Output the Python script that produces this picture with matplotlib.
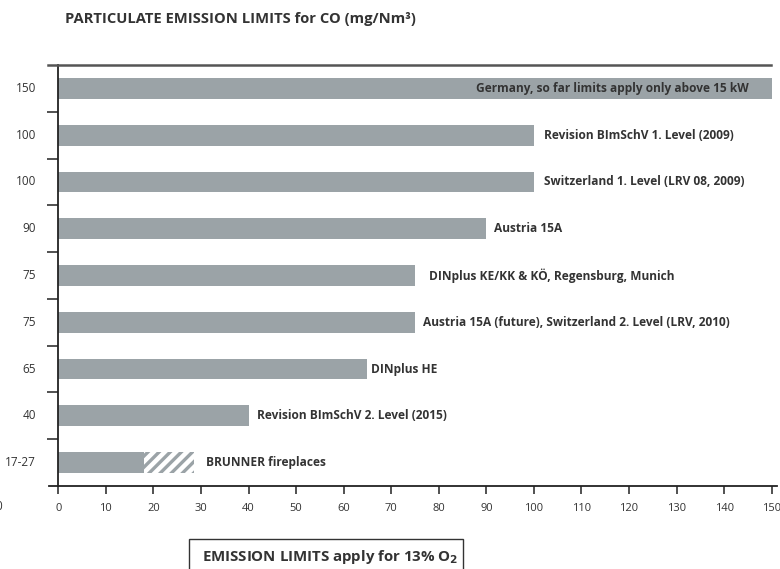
import matplotlib
matplotlib.use("Agg")
import matplotlib.pyplot as plt
from matplotlib.lines import Line2D
from matplotlib.patches import Rectangle

# ---- data ----
labels = [
    "Germany, so far limits apply only above 15 kW",
    "Revision BImSchV 1. Level (2009)",
    "Switzerland 1. Level (LRV 08, 2009)",
    "Austria 15A",
    "DINplus KE/KK & KÖ, Regensburg, Munich",
    "Austria 15A (future), Switzerland 2. Level (LRV, 2010)",
    "DINplus HE",
    "Revision BImSchV 2. Level (2015)",
    "BRUNNER fireplaces",
]
tick_labels = ["150", "100", "100", "90", "75", "75", "65", "40", "17-27"]
values = [150, 100, 100, 90, 75, 75, 65, 40, 18]
hatched_extra = [0, 0, 0, 0, 0, 0, 0, 0, 10.6]
xticks = list(range(0, 151, 10))

# ---- style ----
label_gap_px = [-23, 10, 10, 8, 14, 8, 4, 8, 12]
BAR = "#9ba3a7"
TXT = "#333333"
FONT = "Open Sans"

plt.rcParams["font.family"] = [FONT, "DejaVu Sans"]
plt.rcParams["hatch.linewidth"] = 2.4

W, H = 780, 569
fig = plt.figure(figsize=(W / 100, H / 100), dpi=100)

def fx(px):
    return px / W

def fy(py):
    return 1 - py / H

x0, x1, y0, y1 = 58.3, 771.7, 65, 486
ax = fig.add_axes([fx(x0), fy(y1), fx(x1) - fx(x0), fy(y0) - fy(y1)])
ax.set_xlim(0, 150)
n = len(values)
ax.set_ylim(n - 0.5, -0.5)
pos = list(range(n))
px_per_unit = (x1 - x0) / 150

ax.barh(pos, values, height=0.445, color=BAR, edgecolor="none", zorder=2)
for i, extra in enumerate(hatched_extra):
    if extra:
        ax.barh(i, extra, left=values[i], height=0.445, color="white",
                edgecolor=BAR, linewidth=0, hatch="///", zorder=2)

for sp in ["top", "right", "bottom"]:
    ax.spines[sp].set_visible(False)
ax.spines["left"].set_color("#222222")
ax.spines["left"].set_linewidth(1.3)

ax.set_xticks(xticks)
ax.set_xticklabels([str(t) for t in xticks])
ax.tick_params(axis="x", length=6, width=1.2, color="#333333", pad=6,
               labelsize=8.0, labelcolor=TXT)
ax.set_yticks([p + 0.5 for p in pos[:-1]])
ax.set_yticklabels([])
ax.tick_params(axis="y", length=8, width=1.2, color="#333333")
for p, t in zip(pos, tick_labels):
    ax.text(-(x0 - 36) / px_per_unit, p, t, ha="right", va="center",
            fontsize=8.5, color=TXT)

# labels
for i, (lab, v) in enumerate(zip(labels, values)):
    end = v + hatched_extra[i]
    gap = label_gap_px[i] / px_per_unit
    ax.text(end + gap, i, lab, ha="left" if gap > 0 else "right",
            va="center", fontsize=8.6, fontweight="bold", color=TXT, zorder=3)

# frame lines
fig.add_artist(Line2D([fx(48), fx(771)], [fy(65), fy(65)], color="#555555", lw=1.8))
fig.add_artist(Line2D([fx(49), fx(777)], [fy(486), fy(486)], color="#222222", lw=1.3))

# title
fig.text(fx(65), fy(19), "PARTICULATE EMISSION LIMITS for CO (mg/Nm³)",
         ha="left", va="center", fontsize=10.6, fontweight="bold", color=TXT)

# stray glyph at left edge
fig.text(fx(-5), fy(507), "0", ha="left", va="center", fontsize=8.5, color=TXT)

# bottom box
fig.add_artist(Rectangle((fx(189.3), fy(575)), fx(463.3) - fx(189.3), fy(539.3) - fy(575),
                         transform=fig.transFigure, facecolor="white",
                         edgecolor="#333333", lw=1.0))
fig.text(fx(201.7), fy(557), r"EMISSION LIMITS apply for 13% O$_\mathbf{2}$",
         ha="left", va="center", fontsize=10.8, fontweight="bold", color=TXT)

fig.savefig("out.png", dpi=100)
